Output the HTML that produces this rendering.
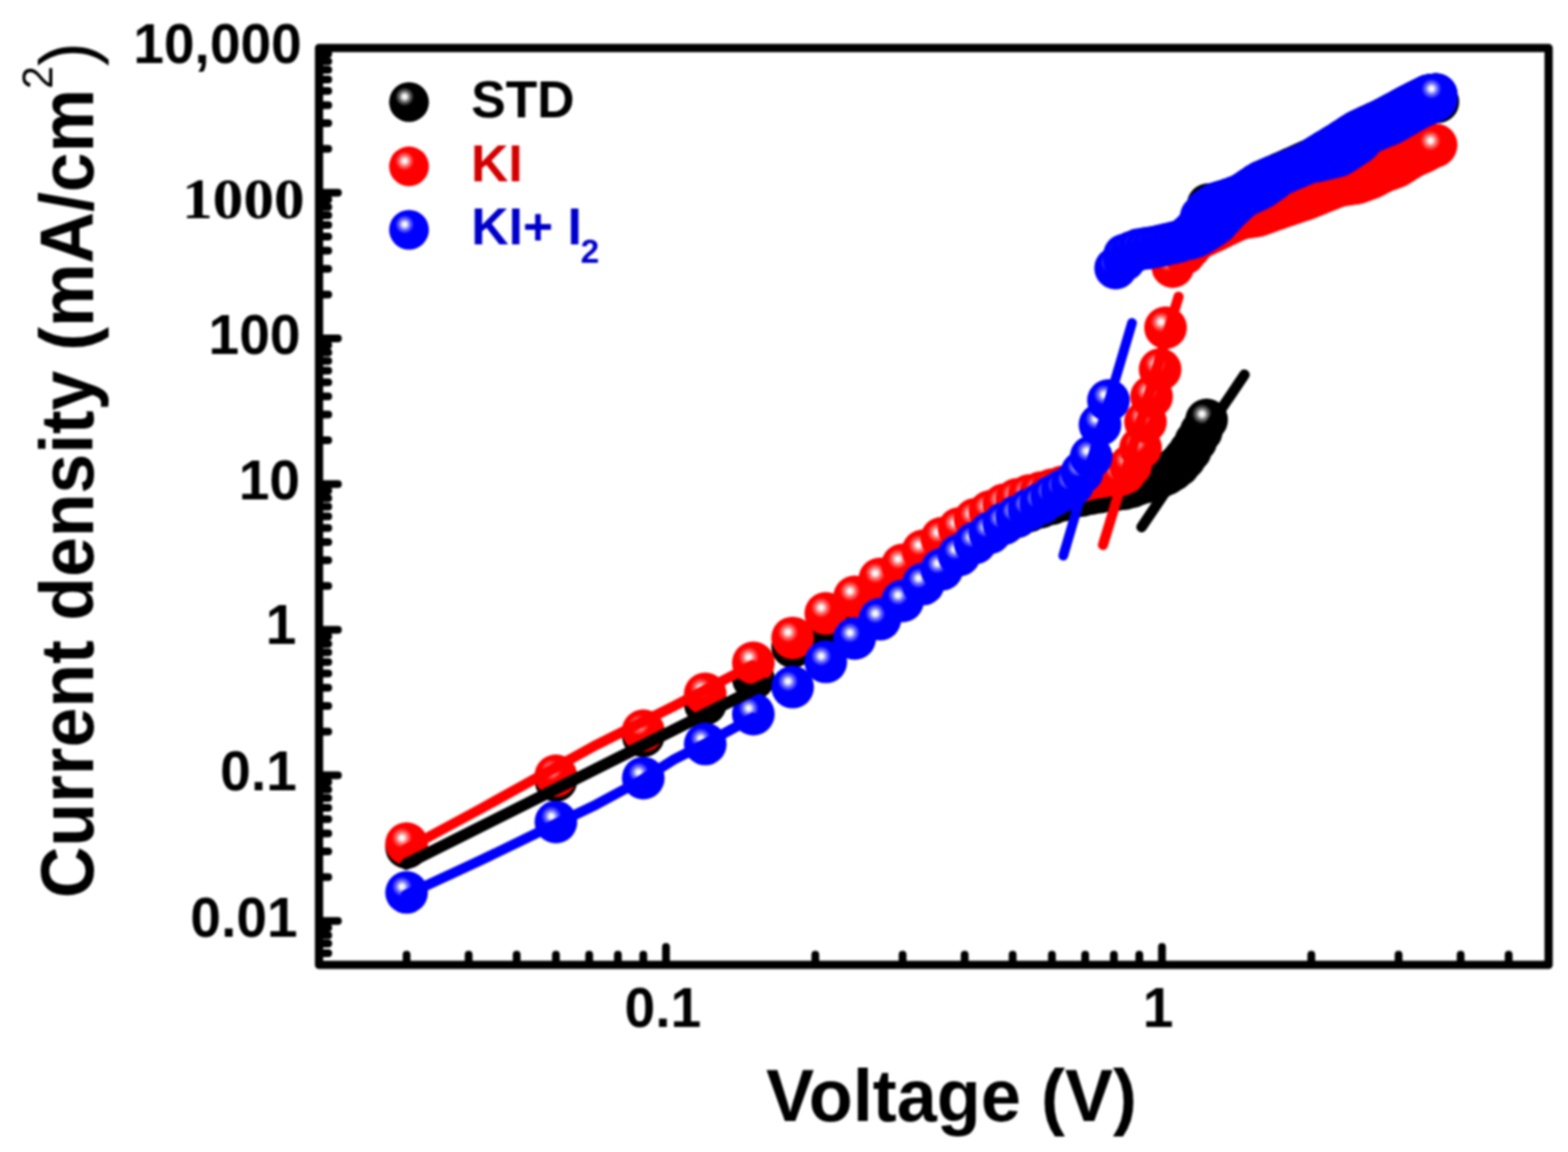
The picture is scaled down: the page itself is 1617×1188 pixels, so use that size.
<!DOCTYPE html><html><head><meta charset="utf-8"><title>J-V plot</title><style>html,body{margin:0;padding:0;background:#fff;width:1617px;height:1188px;overflow:hidden}svg{display:block;filter:blur(0.9px)}</style></head><body>
<svg width="1617" height="1188" viewBox="0 0 1617 1188">
<defs>
<radialGradient id="hl" cx="0.5" cy="0.5" r="0.5"><stop offset="0" stop-color="#fff" stop-opacity="1"/><stop offset="0.22" stop-color="#fff" stop-opacity="0.95"/><stop offset="0.55" stop-color="#fff" stop-opacity="0.45"/><stop offset="1" stop-color="#fff" stop-opacity="0"/></radialGradient>
</defs>
<rect x="0" y="0" width="1617" height="1188" fill="#fff"/>
<g>
<circle cx="419.3" cy="874.0" r="22.00" fill="#000"/><circle cx="414.5" cy="868.0" r="10.50" fill="url(#hl)"/>
<circle cx="573.3" cy="805.0" r="22.00" fill="#000"/><circle cx="568.5" cy="799.0" r="10.50" fill="url(#hl)"/>
<circle cx="663.4" cy="759.0" r="22.00" fill="#000"/><circle cx="658.6" cy="753.0" r="10.50" fill="url(#hl)"/>
<circle cx="727.3" cy="726.0" r="22.00" fill="#000"/><circle cx="722.5" cy="720.0" r="10.50" fill="url(#hl)"/>
<circle cx="776.9" cy="700.0" r="22.00" fill="#000"/><circle cx="772.1" cy="694.0" r="10.50" fill="url(#hl)"/>
<circle cx="817.4" cy="667.0" r="22.00" fill="#000"/><circle cx="812.6" cy="661.0" r="10.50" fill="url(#hl)"/>
<circle cx="851.6" cy="650.0" r="22.00" fill="#000"/><circle cx="846.8" cy="644.0" r="10.50" fill="url(#hl)"/>
<circle cx="881.3" cy="632.0" r="22.00" fill="#000"/><circle cx="876.5" cy="626.0" r="10.50" fill="url(#hl)"/>
<circle cx="907.4" cy="616.0" r="22.00" fill="#000"/><circle cx="902.6" cy="610.0" r="10.50" fill="url(#hl)"/>
<circle cx="930.8" cy="602.0" r="22.00" fill="#000"/><circle cx="926.0" cy="596.0" r="10.50" fill="url(#hl)"/>
<circle cx="952.0" cy="589.0" r="22.00" fill="#000"/><circle cx="947.2" cy="583.0" r="10.50" fill="url(#hl)"/>
<circle cx="971.3" cy="578.0" r="22.00" fill="#000"/><circle cx="966.5" cy="572.0" r="10.50" fill="url(#hl)"/>
<circle cx="989.1" cy="567.0" r="22.00" fill="#000"/><circle cx="984.3" cy="561.0" r="10.50" fill="url(#hl)"/>
<circle cx="1005.6" cy="557.0" r="22.00" fill="#000"/><circle cx="1000.8" cy="551.0" r="10.50" fill="url(#hl)"/>
<circle cx="1020.9" cy="548.0" r="22.00" fill="#000"/><circle cx="1016.1" cy="542.0" r="10.50" fill="url(#hl)"/>
<circle cx="1035.3" cy="540.0" r="22.00" fill="#000"/><circle cx="1030.5" cy="534.0" r="10.50" fill="url(#hl)"/>
<circle cx="1048.7" cy="533.0" r="22.00" fill="#000"/><circle cx="1043.9" cy="527.0" r="10.50" fill="url(#hl)"/>
<circle cx="1061.4" cy="527.0" r="22.00" fill="#000"/><circle cx="1056.6" cy="521.0" r="10.50" fill="url(#hl)"/>
<circle cx="1073.4" cy="523.0" r="22.00" fill="#000"/><circle cx="1068.6" cy="517.0" r="10.50" fill="url(#hl)"/>
<circle cx="1084.8" cy="519.5" r="22.00" fill="#000"/><circle cx="1080.0" cy="513.5" r="10.50" fill="url(#hl)"/>
<circle cx="1095.7" cy="516.0" r="22.00" fill="#000"/><circle cx="1090.9" cy="510.0" r="10.50" fill="url(#hl)"/>
<circle cx="1106.0" cy="513.0" r="22.00" fill="#000"/><circle cx="1101.2" cy="507.0" r="10.50" fill="url(#hl)"/>
<circle cx="1115.9" cy="511.0" r="22.00" fill="#000"/><circle cx="1111.1" cy="505.0" r="10.50" fill="url(#hl)"/>
<circle cx="1125.3" cy="509.0" r="22.00" fill="#000"/><circle cx="1120.5" cy="503.0" r="10.50" fill="url(#hl)"/>
<circle cx="1134.4" cy="507.5" r="22.00" fill="#000"/><circle cx="1129.6" cy="501.5" r="10.50" fill="url(#hl)"/>
<circle cx="1143.1" cy="506.0" r="22.00" fill="#000"/><circle cx="1138.3" cy="500.0" r="10.50" fill="url(#hl)"/>
<circle cx="1151.5" cy="505.0" r="22.00" fill="#000"/><circle cx="1146.7" cy="499.0" r="10.50" fill="url(#hl)"/>
<circle cx="1159.6" cy="504.0" r="22.00" fill="#000"/><circle cx="1154.8" cy="498.0" r="10.50" fill="url(#hl)"/>
<circle cx="1167.4" cy="502.0" r="22.00" fill="#000"/><circle cx="1162.6" cy="496.0" r="10.50" fill="url(#hl)"/>
<circle cx="1174.9" cy="499.0" r="22.00" fill="#000"/><circle cx="1170.1" cy="493.0" r="10.50" fill="url(#hl)"/>
<circle cx="1182.2" cy="497.0" r="22.00" fill="#000"/><circle cx="1177.4" cy="491.0" r="10.50" fill="url(#hl)"/>
<circle cx="1189.2" cy="495.0" r="22.00" fill="#000"/><circle cx="1184.4" cy="489.0" r="10.50" fill="url(#hl)"/>
<circle cx="1196.1" cy="492.0" r="22.00" fill="#000"/><circle cx="1191.3" cy="486.0" r="10.50" fill="url(#hl)"/>
<circle cx="1202.7" cy="489.0" r="22.00" fill="#000"/><circle cx="1197.9" cy="483.0" r="10.50" fill="url(#hl)"/>
<circle cx="1209.1" cy="485.0" r="22.00" fill="#000"/><circle cx="1204.3" cy="479.0" r="10.50" fill="url(#hl)"/>
<circle cx="1215.4" cy="480.0" r="22.00" fill="#000"/><circle cx="1210.6" cy="474.0" r="10.50" fill="url(#hl)"/>
<circle cx="1221.5" cy="473.0" r="22.00" fill="#000"/><circle cx="1216.7" cy="467.0" r="10.50" fill="url(#hl)"/>
<circle cx="1227.4" cy="465.0" r="22.00" fill="#000"/><circle cx="1222.6" cy="459.0" r="10.50" fill="url(#hl)"/>
<circle cx="1233.2" cy="455.0" r="22.00" fill="#000"/><circle cx="1228.4" cy="449.0" r="10.50" fill="url(#hl)"/>
<circle cx="1238.8" cy="445.0" r="22.00" fill="#000"/><circle cx="1234.0" cy="439.0" r="10.50" fill="url(#hl)"/>
<circle cx="1244.3" cy="433.0" r="22.00" fill="#000"/><circle cx="1239.5" cy="427.0" r="10.50" fill="url(#hl)"/>
<circle cx="1246.0" cy="211.0" r="22.00" fill="#000"/><circle cx="1241.2" cy="205.0" r="10.50" fill="url(#hl)"/>
<circle cx="1254.9" cy="209.6" r="22.00" fill="#000"/><circle cx="1250.1" cy="203.6" r="10.50" fill="url(#hl)"/>
<circle cx="1260.0" cy="208.1" r="22.00" fill="#000"/><circle cx="1255.2" cy="202.1" r="10.50" fill="url(#hl)"/>
<circle cx="1265.0" cy="206.6" r="22.00" fill="#000"/><circle cx="1260.2" cy="200.6" r="10.50" fill="url(#hl)"/>
<circle cx="1269.8" cy="204.9" r="22.00" fill="#000"/><circle cx="1265.0" cy="198.9" r="10.50" fill="url(#hl)"/>
<circle cx="1274.6" cy="203.2" r="22.00" fill="#000"/><circle cx="1269.8" cy="197.2" r="10.50" fill="url(#hl)"/>
<circle cx="1279.3" cy="201.5" r="22.00" fill="#000"/><circle cx="1274.5" cy="195.5" r="10.50" fill="url(#hl)"/>
<circle cx="1283.9" cy="198.6" r="22.00" fill="#000"/><circle cx="1279.1" cy="192.6" r="10.50" fill="url(#hl)"/>
<circle cx="1288.4" cy="195.7" r="22.00" fill="#000"/><circle cx="1283.6" cy="189.7" r="10.50" fill="url(#hl)"/>
<circle cx="1292.8" cy="192.8" r="22.00" fill="#000"/><circle cx="1288.0" cy="186.8" r="10.50" fill="url(#hl)"/>
<circle cx="1297.1" cy="189.9" r="22.00" fill="#000"/><circle cx="1292.3" cy="183.9" r="10.50" fill="url(#hl)"/>
<circle cx="1301.3" cy="187.4" r="22.00" fill="#000"/><circle cx="1296.5" cy="181.4" r="10.50" fill="url(#hl)"/>
<circle cx="1305.5" cy="185.6" r="22.00" fill="#000"/><circle cx="1300.7" cy="179.6" r="10.50" fill="url(#hl)"/>
<circle cx="1309.5" cy="183.8" r="22.00" fill="#000"/><circle cx="1304.7" cy="177.8" r="10.50" fill="url(#hl)"/>
<circle cx="1313.5" cy="182.1" r="22.00" fill="#000"/><circle cx="1308.7" cy="176.1" r="10.50" fill="url(#hl)"/>
<circle cx="1317.5" cy="180.4" r="22.00" fill="#000"/><circle cx="1312.7" cy="174.4" r="10.50" fill="url(#hl)"/>
<circle cx="1321.3" cy="178.7" r="22.00" fill="#000"/><circle cx="1316.5" cy="172.7" r="10.50" fill="url(#hl)"/>
<circle cx="1325.1" cy="177.0" r="22.00" fill="#000"/><circle cx="1320.3" cy="171.0" r="10.50" fill="url(#hl)"/>
<circle cx="1328.9" cy="175.4" r="22.00" fill="#000"/><circle cx="1324.1" cy="169.4" r="10.50" fill="url(#hl)"/>
<circle cx="1332.5" cy="173.7" r="22.00" fill="#000"/><circle cx="1327.7" cy="167.7" r="10.50" fill="url(#hl)"/>
<circle cx="1336.2" cy="172.1" r="22.00" fill="#000"/><circle cx="1331.4" cy="166.1" r="10.50" fill="url(#hl)"/>
<circle cx="1339.7" cy="170.5" r="22.00" fill="#000"/><circle cx="1334.9" cy="164.5" r="10.50" fill="url(#hl)"/>
<circle cx="1343.2" cy="168.9" r="22.00" fill="#000"/><circle cx="1338.4" cy="162.9" r="10.50" fill="url(#hl)"/>
<circle cx="1346.7" cy="167.4" r="22.00" fill="#000"/><circle cx="1341.9" cy="161.4" r="10.50" fill="url(#hl)"/>
<circle cx="1350.0" cy="165.9" r="22.00" fill="#000"/><circle cx="1345.2" cy="159.9" r="10.50" fill="url(#hl)"/>
<circle cx="1353.4" cy="164.4" r="22.00" fill="#000"/><circle cx="1348.6" cy="158.4" r="10.50" fill="url(#hl)"/>
<circle cx="1356.7" cy="162.5" r="22.00" fill="#000"/><circle cx="1351.9" cy="156.5" r="10.50" fill="url(#hl)"/>
<circle cx="1359.9" cy="160.5" r="22.00" fill="#000"/><circle cx="1355.1" cy="154.5" r="10.50" fill="url(#hl)"/>
<circle cx="1363.1" cy="158.6" r="22.00" fill="#000"/><circle cx="1358.3" cy="152.6" r="10.50" fill="url(#hl)"/>
<circle cx="1366.3" cy="156.7" r="22.00" fill="#000"/><circle cx="1361.5" cy="150.7" r="10.50" fill="url(#hl)"/>
<circle cx="1369.4" cy="154.8" r="22.00" fill="#000"/><circle cx="1364.6" cy="148.8" r="10.50" fill="url(#hl)"/>
<circle cx="1372.4" cy="153.0" r="22.00" fill="#000"/><circle cx="1367.6" cy="147.0" r="10.50" fill="url(#hl)"/>
<circle cx="1375.5" cy="151.1" r="22.00" fill="#000"/><circle cx="1370.7" cy="145.1" r="10.50" fill="url(#hl)"/>
<circle cx="1378.4" cy="149.3" r="22.00" fill="#000"/><circle cx="1373.6" cy="143.3" r="10.50" fill="url(#hl)"/>
<circle cx="1381.4" cy="147.5" r="22.00" fill="#000"/><circle cx="1376.6" cy="141.5" r="10.50" fill="url(#hl)"/>
<circle cx="1384.3" cy="145.6" r="22.00" fill="#000"/><circle cx="1379.5" cy="139.6" r="10.50" fill="url(#hl)"/>
<circle cx="1387.2" cy="143.8" r="22.00" fill="#000"/><circle cx="1382.4" cy="137.8" r="10.50" fill="url(#hl)"/>
<circle cx="1390.0" cy="142.0" r="22.00" fill="#000"/><circle cx="1385.2" cy="136.0" r="10.50" fill="url(#hl)"/>
<circle cx="1392.8" cy="140.2" r="22.00" fill="#000"/><circle cx="1388.0" cy="134.2" r="10.50" fill="url(#hl)"/>
<circle cx="1395.5" cy="138.4" r="22.00" fill="#000"/><circle cx="1390.7" cy="132.4" r="10.50" fill="url(#hl)"/>
<circle cx="1398.3" cy="136.6" r="22.00" fill="#000"/><circle cx="1393.5" cy="130.6" r="10.50" fill="url(#hl)"/>
<circle cx="1401.0" cy="135.1" r="22.00" fill="#000"/><circle cx="1396.2" cy="129.1" r="10.50" fill="url(#hl)"/>
<circle cx="1403.6" cy="133.8" r="22.00" fill="#000"/><circle cx="1398.8" cy="127.8" r="10.50" fill="url(#hl)"/>
<circle cx="1406.2" cy="132.6" r="22.00" fill="#000"/><circle cx="1401.4" cy="126.6" r="10.50" fill="url(#hl)"/>
<circle cx="1408.8" cy="131.4" r="22.00" fill="#000"/><circle cx="1404.0" cy="125.4" r="10.50" fill="url(#hl)"/>
<circle cx="1411.4" cy="130.2" r="22.00" fill="#000"/><circle cx="1406.6" cy="124.2" r="10.50" fill="url(#hl)"/>
<circle cx="1414.0" cy="129.0" r="22.00" fill="#000"/><circle cx="1409.2" cy="123.0" r="10.50" fill="url(#hl)"/>
<circle cx="1416.5" cy="127.9" r="22.00" fill="#000"/><circle cx="1411.7" cy="121.9" r="10.50" fill="url(#hl)"/>
<circle cx="1418.9" cy="126.7" r="22.00" fill="#000"/><circle cx="1414.1" cy="120.7" r="10.50" fill="url(#hl)"/>
<circle cx="1421.4" cy="125.6" r="22.00" fill="#000"/><circle cx="1416.6" cy="119.6" r="10.50" fill="url(#hl)"/>
<circle cx="1423.8" cy="124.5" r="22.00" fill="#000"/><circle cx="1419.0" cy="118.5" r="10.50" fill="url(#hl)"/>
<circle cx="1426.2" cy="123.4" r="22.00" fill="#000"/><circle cx="1421.4" cy="117.4" r="10.50" fill="url(#hl)"/>
<circle cx="1428.6" cy="122.1" r="22.00" fill="#000"/><circle cx="1423.8" cy="116.1" r="10.50" fill="url(#hl)"/>
<circle cx="1431.0" cy="120.9" r="22.00" fill="#000"/><circle cx="1426.2" cy="114.9" r="10.50" fill="url(#hl)"/>
<circle cx="1433.3" cy="119.6" r="22.00" fill="#000"/><circle cx="1428.5" cy="113.6" r="10.50" fill="url(#hl)"/>
<circle cx="1435.6" cy="118.4" r="22.00" fill="#000"/><circle cx="1430.8" cy="112.4" r="10.50" fill="url(#hl)"/>
<circle cx="1437.9" cy="117.2" r="22.00" fill="#000"/><circle cx="1433.1" cy="111.2" r="10.50" fill="url(#hl)"/>
<circle cx="1440.1" cy="116.0" r="22.00" fill="#000"/><circle cx="1435.3" cy="110.0" r="10.50" fill="url(#hl)"/>
<circle cx="1442.3" cy="114.8" r="22.00" fill="#000"/><circle cx="1437.5" cy="108.8" r="10.50" fill="url(#hl)"/>
<circle cx="1444.6" cy="113.6" r="22.00" fill="#000"/><circle cx="1439.8" cy="107.6" r="10.50" fill="url(#hl)"/>
<circle cx="1446.7" cy="112.4" r="22.00" fill="#000"/><circle cx="1441.9" cy="106.4" r="10.50" fill="url(#hl)"/>
<circle cx="1448.9" cy="111.2" r="22.00" fill="#000"/><circle cx="1444.1" cy="105.2" r="10.50" fill="url(#hl)"/>
<circle cx="1451.1" cy="110.1" r="22.00" fill="#000"/><circle cx="1446.3" cy="104.1" r="10.50" fill="url(#hl)"/>
<circle cx="1453.2" cy="108.9" r="22.00" fill="#000"/><circle cx="1448.4" cy="102.9" r="10.50" fill="url(#hl)"/>
<circle cx="1455.3" cy="107.8" r="22.00" fill="#000"/><circle cx="1450.5" cy="101.8" r="10.50" fill="url(#hl)"/>
<circle cx="1457.4" cy="106.8" r="22.00" fill="#000"/><circle cx="1452.6" cy="100.8" r="10.50" fill="url(#hl)"/>
<circle cx="1459.4" cy="105.7" r="22.00" fill="#000"/><circle cx="1454.6" cy="99.7" r="10.50" fill="url(#hl)"/>
<circle cx="1461.5" cy="104.7" r="22.00" fill="#000"/><circle cx="1456.7" cy="98.7" r="10.50" fill="url(#hl)"/>
<circle cx="1463.5" cy="103.6" r="22.00" fill="#000"/><circle cx="1458.7" cy="97.6" r="10.50" fill="url(#hl)"/>
<circle cx="1465.5" cy="102.6" r="22.00" fill="#000"/><circle cx="1460.7" cy="96.6" r="10.50" fill="url(#hl)"/>
<circle cx="1467.5" cy="101.6" r="22.00" fill="#000"/><circle cx="1462.7" cy="95.6" r="10.50" fill="url(#hl)"/>
<circle cx="1469.5" cy="100.6" r="22.00" fill="#000"/><circle cx="1464.7" cy="94.6" r="10.50" fill="url(#hl)"/>
<circle cx="1471.5" cy="99.6" r="22.00" fill="#000"/><circle cx="1466.7" cy="93.6" r="10.50" fill="url(#hl)"/>
<circle cx="1473.4" cy="98.6" r="22.00" fill="#000"/><circle cx="1468.6" cy="92.6" r="10.50" fill="url(#hl)"/>
<circle cx="1475.3" cy="98.2" r="22.00" fill="#000"/><circle cx="1470.5" cy="92.2" r="10.50" fill="url(#hl)"/>
<circle cx="1477.2" cy="97.9" r="22.00" fill="#000"/><circle cx="1472.4" cy="91.9" r="10.50" fill="url(#hl)"/>
<circle cx="1479.1" cy="97.7" r="22.00" fill="#000"/><circle cx="1474.3" cy="91.7" r="10.50" fill="url(#hl)"/>
<circle cx="1481.0" cy="97.5" r="22.00" fill="#000"/><circle cx="1476.2" cy="91.5" r="10.50" fill="url(#hl)"/>
<circle cx="1482.8" cy="105.0" r="22.00" fill="#000"/><circle cx="1478.0" cy="99.0" r="10.50" fill="url(#hl)"/>
</g>
<g>
<circle cx="419.3" cy="870.0" r="22.00" fill="#ff0000"/><circle cx="414.5" cy="864.0" r="10.50" fill="url(#hl)"/>
<circle cx="573.3" cy="800.0" r="22.00" fill="#ff0000"/><circle cx="568.5" cy="794.0" r="10.50" fill="url(#hl)"/>
<circle cx="663.4" cy="753.5" r="22.00" fill="#ff0000"/><circle cx="658.6" cy="747.5" r="10.50" fill="url(#hl)"/>
<circle cx="727.3" cy="715.5" r="22.00" fill="#ff0000"/><circle cx="722.5" cy="709.5" r="10.50" fill="url(#hl)"/>
<circle cx="776.9" cy="683.6" r="22.00" fill="#ff0000"/><circle cx="772.1" cy="677.6" r="10.50" fill="url(#hl)"/>
<circle cx="817.4" cy="657.9" r="22.00" fill="#ff0000"/><circle cx="812.6" cy="651.9" r="10.50" fill="url(#hl)"/>
<circle cx="851.6" cy="632.6" r="22.00" fill="#ff0000"/><circle cx="846.8" cy="626.6" r="10.50" fill="url(#hl)"/>
<circle cx="881.3" cy="615.5" r="22.00" fill="#ff0000"/><circle cx="876.5" cy="609.5" r="10.50" fill="url(#hl)"/>
<circle cx="907.4" cy="597.0" r="22.00" fill="#ff0000"/><circle cx="902.6" cy="591.0" r="10.50" fill="url(#hl)"/>
<circle cx="930.8" cy="582.5" r="22.00" fill="#ff0000"/><circle cx="926.0" cy="576.5" r="10.50" fill="url(#hl)"/>
<circle cx="952.0" cy="568.0" r="22.00" fill="#ff0000"/><circle cx="947.2" cy="562.0" r="10.50" fill="url(#hl)"/>
<circle cx="971.3" cy="555.0" r="22.00" fill="#ff0000"/><circle cx="966.5" cy="549.0" r="10.50" fill="url(#hl)"/>
<circle cx="989.1" cy="545.0" r="22.00" fill="#ff0000"/><circle cx="984.3" cy="539.0" r="10.50" fill="url(#hl)"/>
<circle cx="1005.6" cy="535.5" r="22.00" fill="#ff0000"/><circle cx="1000.8" cy="529.5" r="10.50" fill="url(#hl)"/>
<circle cx="1020.9" cy="527.5" r="22.00" fill="#ff0000"/><circle cx="1016.1" cy="521.5" r="10.50" fill="url(#hl)"/>
<circle cx="1035.3" cy="520.5" r="22.00" fill="#ff0000"/><circle cx="1030.5" cy="514.5" r="10.50" fill="url(#hl)"/>
<circle cx="1048.7" cy="515.0" r="22.00" fill="#ff0000"/><circle cx="1043.9" cy="509.0" r="10.50" fill="url(#hl)"/>
<circle cx="1061.4" cy="511.0" r="22.00" fill="#ff0000"/><circle cx="1056.6" cy="505.0" r="10.50" fill="url(#hl)"/>
<circle cx="1073.4" cy="508.0" r="22.00" fill="#ff0000"/><circle cx="1068.6" cy="502.0" r="10.50" fill="url(#hl)"/>
<circle cx="1084.8" cy="505.0" r="22.00" fill="#ff0000"/><circle cx="1080.0" cy="499.0" r="10.50" fill="url(#hl)"/>
<circle cx="1095.7" cy="502.0" r="22.00" fill="#ff0000"/><circle cx="1090.9" cy="496.0" r="10.50" fill="url(#hl)"/>
<circle cx="1106.0" cy="499.0" r="22.00" fill="#ff0000"/><circle cx="1101.2" cy="493.0" r="10.50" fill="url(#hl)"/>
<circle cx="1115.9" cy="496.0" r="22.00" fill="#ff0000"/><circle cx="1111.1" cy="490.0" r="10.50" fill="url(#hl)"/>
<circle cx="1125.3" cy="493.5" r="22.00" fill="#ff0000"/><circle cx="1120.5" cy="487.5" r="10.50" fill="url(#hl)"/>
<circle cx="1134.4" cy="492.0" r="22.00" fill="#ff0000"/><circle cx="1129.6" cy="486.0" r="10.50" fill="url(#hl)"/>
<circle cx="1143.1" cy="490.5" r="22.00" fill="#ff0000"/><circle cx="1138.3" cy="484.5" r="10.50" fill="url(#hl)"/>
<circle cx="1151.5" cy="489.0" r="22.00" fill="#ff0000"/><circle cx="1146.7" cy="483.0" r="10.50" fill="url(#hl)"/>
<circle cx="1159.6" cy="488.0" r="22.00" fill="#ff0000"/><circle cx="1154.8" cy="482.0" r="10.50" fill="url(#hl)"/>
<circle cx="1155.0" cy="490.0" r="22.00" fill="#ff0000"/><circle cx="1150.2" cy="484.0" r="10.50" fill="url(#hl)"/>
<circle cx="1166.0" cy="480.0" r="22.00" fill="#ff0000"/><circle cx="1161.2" cy="474.0" r="10.50" fill="url(#hl)"/>
<circle cx="1176.2" cy="462.0" r="22.00" fill="#ff0000"/><circle cx="1171.4" cy="456.0" r="10.50" fill="url(#hl)"/>
<circle cx="1181.3" cy="435.0" r="22.00" fill="#ff0000"/><circle cx="1176.5" cy="429.0" r="10.50" fill="url(#hl)"/>
<circle cx="1187.6" cy="409.0" r="22.00" fill="#ff0000"/><circle cx="1182.8" cy="403.0" r="10.50" fill="url(#hl)"/>
<circle cx="1196.4" cy="381.0" r="22.00" fill="#ff0000"/><circle cx="1191.6" cy="375.0" r="10.50" fill="url(#hl)"/>
<circle cx="1202.0" cy="338.0" r="22.00" fill="#ff0000"/><circle cx="1197.2" cy="332.0" r="10.50" fill="url(#hl)"/>
<circle cx="1209.4" cy="275.0" r="22.00" fill="#ff0000"/><circle cx="1204.6" cy="269.0" r="10.50" fill="url(#hl)"/>
<circle cx="1221.5" cy="261.4" r="22.00" fill="#ff0000"/><circle cx="1216.7" cy="255.4" r="10.50" fill="url(#hl)"/>
<circle cx="1227.4" cy="254.7" r="22.00" fill="#ff0000"/><circle cx="1222.6" cy="248.7" r="10.50" fill="url(#hl)"/>
<circle cx="1233.2" cy="248.2" r="22.00" fill="#ff0000"/><circle cx="1228.4" cy="242.2" r="10.50" fill="url(#hl)"/>
<circle cx="1238.8" cy="244.5" r="22.00" fill="#ff0000"/><circle cx="1234.0" cy="238.5" r="10.50" fill="url(#hl)"/>
<circle cx="1244.3" cy="241.9" r="22.00" fill="#ff0000"/><circle cx="1239.5" cy="235.9" r="10.50" fill="url(#hl)"/>
<circle cx="1249.6" cy="239.4" r="22.00" fill="#ff0000"/><circle cx="1244.8" cy="233.4" r="10.50" fill="url(#hl)"/>
<circle cx="1254.9" cy="236.9" r="22.00" fill="#ff0000"/><circle cx="1250.1" cy="230.9" r="10.50" fill="url(#hl)"/>
<circle cx="1260.0" cy="234.3" r="22.00" fill="#ff0000"/><circle cx="1255.2" cy="228.3" r="10.50" fill="url(#hl)"/>
<circle cx="1265.0" cy="231.9" r="22.00" fill="#ff0000"/><circle cx="1260.2" cy="225.9" r="10.50" fill="url(#hl)"/>
<circle cx="1269.8" cy="229.6" r="22.00" fill="#ff0000"/><circle cx="1265.0" cy="223.6" r="10.50" fill="url(#hl)"/>
<circle cx="1274.6" cy="227.4" r="22.00" fill="#ff0000"/><circle cx="1269.8" cy="221.4" r="10.50" fill="url(#hl)"/>
<circle cx="1279.3" cy="225.3" r="22.00" fill="#ff0000"/><circle cx="1274.5" cy="219.3" r="10.50" fill="url(#hl)"/>
<circle cx="1283.9" cy="224.4" r="22.00" fill="#ff0000"/><circle cx="1279.1" cy="218.4" r="10.50" fill="url(#hl)"/>
<circle cx="1288.4" cy="223.8" r="22.00" fill="#ff0000"/><circle cx="1283.6" cy="217.8" r="10.50" fill="url(#hl)"/>
<circle cx="1292.8" cy="223.1" r="22.00" fill="#ff0000"/><circle cx="1288.0" cy="217.1" r="10.50" fill="url(#hl)"/>
<circle cx="1297.1" cy="222.5" r="22.00" fill="#ff0000"/><circle cx="1292.3" cy="216.5" r="10.50" fill="url(#hl)"/>
<circle cx="1301.3" cy="220.9" r="22.00" fill="#ff0000"/><circle cx="1296.5" cy="214.9" r="10.50" fill="url(#hl)"/>
<circle cx="1305.5" cy="219.5" r="22.00" fill="#ff0000"/><circle cx="1300.7" cy="213.5" r="10.50" fill="url(#hl)"/>
<circle cx="1309.5" cy="218.0" r="22.00" fill="#ff0000"/><circle cx="1304.7" cy="212.0" r="10.50" fill="url(#hl)"/>
<circle cx="1313.5" cy="216.5" r="22.00" fill="#ff0000"/><circle cx="1308.7" cy="210.5" r="10.50" fill="url(#hl)"/>
<circle cx="1317.5" cy="215.1" r="22.00" fill="#ff0000"/><circle cx="1312.7" cy="209.1" r="10.50" fill="url(#hl)"/>
<circle cx="1321.3" cy="213.7" r="22.00" fill="#ff0000"/><circle cx="1316.5" cy="207.7" r="10.50" fill="url(#hl)"/>
<circle cx="1325.1" cy="212.4" r="22.00" fill="#ff0000"/><circle cx="1320.3" cy="206.4" r="10.50" fill="url(#hl)"/>
<circle cx="1328.9" cy="211.2" r="22.00" fill="#ff0000"/><circle cx="1324.1" cy="205.2" r="10.50" fill="url(#hl)"/>
<circle cx="1332.5" cy="209.9" r="22.00" fill="#ff0000"/><circle cx="1327.7" cy="203.9" r="10.50" fill="url(#hl)"/>
<circle cx="1336.2" cy="208.7" r="22.00" fill="#ff0000"/><circle cx="1331.4" cy="202.7" r="10.50" fill="url(#hl)"/>
<circle cx="1339.7" cy="207.5" r="22.00" fill="#ff0000"/><circle cx="1334.9" cy="201.5" r="10.50" fill="url(#hl)"/>
<circle cx="1343.2" cy="206.3" r="22.00" fill="#ff0000"/><circle cx="1338.4" cy="200.3" r="10.50" fill="url(#hl)"/>
<circle cx="1346.7" cy="205.1" r="22.00" fill="#ff0000"/><circle cx="1341.9" cy="199.1" r="10.50" fill="url(#hl)"/>
<circle cx="1350.0" cy="203.8" r="22.00" fill="#ff0000"/><circle cx="1345.2" cy="197.8" r="10.50" fill="url(#hl)"/>
<circle cx="1353.4" cy="202.4" r="22.00" fill="#ff0000"/><circle cx="1348.6" cy="196.4" r="10.50" fill="url(#hl)"/>
<circle cx="1356.7" cy="201.1" r="22.00" fill="#ff0000"/><circle cx="1351.9" cy="195.1" r="10.50" fill="url(#hl)"/>
<circle cx="1359.9" cy="199.8" r="22.00" fill="#ff0000"/><circle cx="1355.1" cy="193.8" r="10.50" fill="url(#hl)"/>
<circle cx="1363.1" cy="198.5" r="22.00" fill="#ff0000"/><circle cx="1358.3" cy="192.5" r="10.50" fill="url(#hl)"/>
<circle cx="1366.3" cy="197.2" r="22.00" fill="#ff0000"/><circle cx="1361.5" cy="191.2" r="10.50" fill="url(#hl)"/>
<circle cx="1369.4" cy="196.0" r="22.00" fill="#ff0000"/><circle cx="1364.6" cy="190.0" r="10.50" fill="url(#hl)"/>
<circle cx="1372.4" cy="194.8" r="22.00" fill="#ff0000"/><circle cx="1367.6" cy="188.8" r="10.50" fill="url(#hl)"/>
<circle cx="1375.5" cy="193.5" r="22.00" fill="#ff0000"/><circle cx="1370.7" cy="187.5" r="10.50" fill="url(#hl)"/>
<circle cx="1378.4" cy="192.3" r="22.00" fill="#ff0000"/><circle cx="1373.6" cy="186.3" r="10.50" fill="url(#hl)"/>
<circle cx="1381.4" cy="191.2" r="22.00" fill="#ff0000"/><circle cx="1376.6" cy="185.2" r="10.50" fill="url(#hl)"/>
<circle cx="1384.3" cy="190.8" r="22.00" fill="#ff0000"/><circle cx="1379.5" cy="184.8" r="10.50" fill="url(#hl)"/>
<circle cx="1387.2" cy="190.4" r="22.00" fill="#ff0000"/><circle cx="1382.4" cy="184.4" r="10.50" fill="url(#hl)"/>
<circle cx="1390.0" cy="190.0" r="22.00" fill="#ff0000"/><circle cx="1385.2" cy="184.0" r="10.50" fill="url(#hl)"/>
<circle cx="1392.8" cy="189.6" r="22.00" fill="#ff0000"/><circle cx="1388.0" cy="183.6" r="10.50" fill="url(#hl)"/>
<circle cx="1395.5" cy="189.2" r="22.00" fill="#ff0000"/><circle cx="1390.7" cy="183.2" r="10.50" fill="url(#hl)"/>
<circle cx="1398.3" cy="188.8" r="22.00" fill="#ff0000"/><circle cx="1393.5" cy="182.8" r="10.50" fill="url(#hl)"/>
<circle cx="1401.0" cy="188.1" r="22.00" fill="#ff0000"/><circle cx="1396.2" cy="182.1" r="10.50" fill="url(#hl)"/>
<circle cx="1403.6" cy="187.1" r="22.00" fill="#ff0000"/><circle cx="1398.8" cy="181.1" r="10.50" fill="url(#hl)"/>
<circle cx="1406.2" cy="186.2" r="22.00" fill="#ff0000"/><circle cx="1401.4" cy="180.2" r="10.50" fill="url(#hl)"/>
<circle cx="1408.8" cy="185.2" r="22.00" fill="#ff0000"/><circle cx="1404.0" cy="179.2" r="10.50" fill="url(#hl)"/>
<circle cx="1411.4" cy="184.2" r="22.00" fill="#ff0000"/><circle cx="1406.6" cy="178.2" r="10.50" fill="url(#hl)"/>
<circle cx="1414.0" cy="183.3" r="22.00" fill="#ff0000"/><circle cx="1409.2" cy="177.3" r="10.50" fill="url(#hl)"/>
<circle cx="1416.5" cy="182.1" r="22.00" fill="#ff0000"/><circle cx="1411.7" cy="176.1" r="10.50" fill="url(#hl)"/>
<circle cx="1418.9" cy="180.8" r="22.00" fill="#ff0000"/><circle cx="1414.1" cy="174.8" r="10.50" fill="url(#hl)"/>
<circle cx="1421.4" cy="179.5" r="22.00" fill="#ff0000"/><circle cx="1416.6" cy="173.5" r="10.50" fill="url(#hl)"/>
<circle cx="1423.8" cy="178.2" r="22.00" fill="#ff0000"/><circle cx="1419.0" cy="172.2" r="10.50" fill="url(#hl)"/>
<circle cx="1426.2" cy="176.9" r="22.00" fill="#ff0000"/><circle cx="1421.4" cy="170.9" r="10.50" fill="url(#hl)"/>
<circle cx="1428.6" cy="175.9" r="22.00" fill="#ff0000"/><circle cx="1423.8" cy="169.9" r="10.50" fill="url(#hl)"/>
<circle cx="1431.0" cy="175.1" r="22.00" fill="#ff0000"/><circle cx="1426.2" cy="169.1" r="10.50" fill="url(#hl)"/>
<circle cx="1433.3" cy="174.3" r="22.00" fill="#ff0000"/><circle cx="1428.5" cy="168.3" r="10.50" fill="url(#hl)"/>
<circle cx="1435.6" cy="173.5" r="22.00" fill="#ff0000"/><circle cx="1430.8" cy="167.5" r="10.50" fill="url(#hl)"/>
<circle cx="1437.9" cy="172.7" r="22.00" fill="#ff0000"/><circle cx="1433.1" cy="166.7" r="10.50" fill="url(#hl)"/>
<circle cx="1440.1" cy="171.9" r="22.00" fill="#ff0000"/><circle cx="1435.3" cy="165.9" r="10.50" fill="url(#hl)"/>
<circle cx="1442.3" cy="170.5" r="22.00" fill="#ff0000"/><circle cx="1437.5" cy="164.5" r="10.50" fill="url(#hl)"/>
<circle cx="1444.6" cy="169.1" r="22.00" fill="#ff0000"/><circle cx="1439.8" cy="163.1" r="10.50" fill="url(#hl)"/>
<circle cx="1446.7" cy="167.7" r="22.00" fill="#ff0000"/><circle cx="1441.9" cy="161.7" r="10.50" fill="url(#hl)"/>
<circle cx="1448.9" cy="166.3" r="22.00" fill="#ff0000"/><circle cx="1444.1" cy="160.3" r="10.50" fill="url(#hl)"/>
<circle cx="1451.1" cy="164.9" r="22.00" fill="#ff0000"/><circle cx="1446.3" cy="158.9" r="10.50" fill="url(#hl)"/>
<circle cx="1453.2" cy="163.6" r="22.00" fill="#ff0000"/><circle cx="1448.4" cy="157.6" r="10.50" fill="url(#hl)"/>
<circle cx="1455.3" cy="162.2" r="22.00" fill="#ff0000"/><circle cx="1450.5" cy="156.2" r="10.50" fill="url(#hl)"/>
<circle cx="1457.4" cy="160.9" r="22.00" fill="#ff0000"/><circle cx="1452.6" cy="154.9" r="10.50" fill="url(#hl)"/>
<circle cx="1459.4" cy="160.0" r="22.00" fill="#ff0000"/><circle cx="1454.6" cy="154.0" r="10.50" fill="url(#hl)"/>
<circle cx="1461.5" cy="159.3" r="22.00" fill="#ff0000"/><circle cx="1456.7" cy="153.3" r="10.50" fill="url(#hl)"/>
<circle cx="1463.5" cy="158.5" r="22.00" fill="#ff0000"/><circle cx="1458.7" cy="152.5" r="10.50" fill="url(#hl)"/>
<circle cx="1465.5" cy="157.7" r="22.00" fill="#ff0000"/><circle cx="1460.7" cy="151.7" r="10.50" fill="url(#hl)"/>
<circle cx="1467.5" cy="156.7" r="22.00" fill="#ff0000"/><circle cx="1462.7" cy="150.7" r="10.50" fill="url(#hl)"/>
<circle cx="1469.5" cy="155.6" r="22.00" fill="#ff0000"/><circle cx="1464.7" cy="149.6" r="10.50" fill="url(#hl)"/>
<circle cx="1471.5" cy="154.6" r="22.00" fill="#ff0000"/><circle cx="1466.7" cy="148.6" r="10.50" fill="url(#hl)"/>
<circle cx="1473.4" cy="153.5" r="22.00" fill="#ff0000"/><circle cx="1468.6" cy="147.5" r="10.50" fill="url(#hl)"/>
<circle cx="1475.3" cy="152.5" r="22.00" fill="#ff0000"/><circle cx="1470.5" cy="146.5" r="10.50" fill="url(#hl)"/>
<circle cx="1477.2" cy="151.5" r="22.00" fill="#ff0000"/><circle cx="1472.4" cy="145.5" r="10.50" fill="url(#hl)"/>
<circle cx="1479.1" cy="150.5" r="22.00" fill="#ff0000"/><circle cx="1474.3" cy="144.5" r="10.50" fill="url(#hl)"/>
<circle cx="1481.0" cy="149.5" r="22.00" fill="#ff0000"/><circle cx="1476.2" cy="143.5" r="10.50" fill="url(#hl)"/>
<circle cx="1480.0" cy="151.0" r="22.00" fill="#ff0000"/><circle cx="1475.2" cy="145.0" r="10.50" fill="url(#hl)"/>
</g>
<g>
<circle cx="419.3" cy="920.3" r="22.00" fill="#0000ff"/><circle cx="414.5" cy="914.3" r="10.50" fill="url(#hl)"/>
<circle cx="573.3" cy="847.7" r="22.00" fill="#0000ff"/><circle cx="568.5" cy="841.7" r="10.50" fill="url(#hl)"/>
<circle cx="663.4" cy="802.4" r="22.00" fill="#0000ff"/><circle cx="658.6" cy="796.4" r="10.50" fill="url(#hl)"/>
<circle cx="727.3" cy="767.3" r="22.00" fill="#0000ff"/><circle cx="722.5" cy="761.3" r="10.50" fill="url(#hl)"/>
<circle cx="776.9" cy="736.4" r="22.00" fill="#0000ff"/><circle cx="772.1" cy="730.4" r="10.50" fill="url(#hl)"/>
<circle cx="817.4" cy="708.6" r="22.00" fill="#0000ff"/><circle cx="812.6" cy="702.6" r="10.50" fill="url(#hl)"/>
<circle cx="851.6" cy="682.6" r="22.00" fill="#0000ff"/><circle cx="846.8" cy="676.6" r="10.50" fill="url(#hl)"/>
<circle cx="881.3" cy="658.5" r="22.00" fill="#0000ff"/><circle cx="876.5" cy="652.5" r="10.50" fill="url(#hl)"/>
<circle cx="907.4" cy="638.6" r="22.00" fill="#0000ff"/><circle cx="902.6" cy="632.6" r="10.50" fill="url(#hl)"/>
<circle cx="930.8" cy="619.7" r="22.00" fill="#0000ff"/><circle cx="926.0" cy="613.7" r="10.50" fill="url(#hl)"/>
<circle cx="952.0" cy="602.3" r="22.00" fill="#0000ff"/><circle cx="947.2" cy="596.3" r="10.50" fill="url(#hl)"/>
<circle cx="971.3" cy="587.1" r="22.00" fill="#0000ff"/><circle cx="966.5" cy="581.1" r="10.50" fill="url(#hl)"/>
<circle cx="989.1" cy="572.5" r="22.00" fill="#0000ff"/><circle cx="984.3" cy="566.5" r="10.50" fill="url(#hl)"/>
<circle cx="1005.6" cy="560.0" r="22.00" fill="#0000ff"/><circle cx="1000.8" cy="554.0" r="10.50" fill="url(#hl)"/>
<circle cx="1020.9" cy="549.5" r="22.00" fill="#0000ff"/><circle cx="1016.1" cy="543.5" r="10.50" fill="url(#hl)"/>
<circle cx="1035.3" cy="540.0" r="22.00" fill="#0000ff"/><circle cx="1030.5" cy="534.0" r="10.50" fill="url(#hl)"/>
<circle cx="1048.7" cy="532.5" r="22.00" fill="#0000ff"/><circle cx="1043.9" cy="526.5" r="10.50" fill="url(#hl)"/>
<circle cx="1061.4" cy="525.5" r="22.00" fill="#0000ff"/><circle cx="1056.6" cy="519.5" r="10.50" fill="url(#hl)"/>
<circle cx="1073.4" cy="519.5" r="22.00" fill="#0000ff"/><circle cx="1068.6" cy="513.5" r="10.50" fill="url(#hl)"/>
<circle cx="1084.8" cy="512.0" r="22.00" fill="#0000ff"/><circle cx="1080.0" cy="506.0" r="10.50" fill="url(#hl)"/>
<circle cx="1095.7" cy="506.0" r="22.00" fill="#0000ff"/><circle cx="1090.9" cy="500.0" r="10.50" fill="url(#hl)"/>
<circle cx="1106.0" cy="500.0" r="22.00" fill="#0000ff"/><circle cx="1101.2" cy="494.0" r="10.50" fill="url(#hl)"/>
<circle cx="1115.9" cy="487.0" r="22.00" fill="#0000ff"/><circle cx="1111.1" cy="481.0" r="10.50" fill="url(#hl)"/>
<circle cx="1125.3" cy="471.0" r="22.00" fill="#0000ff"/><circle cx="1120.5" cy="465.0" r="10.50" fill="url(#hl)"/>
<circle cx="1134.4" cy="438.0" r="22.00" fill="#0000ff"/><circle cx="1129.6" cy="432.0" r="10.50" fill="url(#hl)"/>
<circle cx="1143.1" cy="413.0" r="22.00" fill="#0000ff"/><circle cx="1138.3" cy="407.0" r="10.50" fill="url(#hl)"/>
<circle cx="1150.5" cy="276.5" r="22.00" fill="#0000ff"/><circle cx="1145.7" cy="270.5" r="10.50" fill="url(#hl)"/>
<circle cx="1159.6" cy="267.9" r="22.00" fill="#0000ff"/><circle cx="1154.8" cy="261.9" r="10.50" fill="url(#hl)"/>
<circle cx="1159.6" cy="263.1" r="22.00" fill="#0000ff"/><circle cx="1154.8" cy="257.1" r="10.50" fill="url(#hl)"/>
<circle cx="1167.4" cy="260.1" r="22.00" fill="#0000ff"/><circle cx="1162.6" cy="254.1" r="10.50" fill="url(#hl)"/>
<circle cx="1174.9" cy="257.2" r="22.00" fill="#0000ff"/><circle cx="1170.1" cy="251.2" r="10.50" fill="url(#hl)"/>
<circle cx="1182.2" cy="256.1" r="22.00" fill="#0000ff"/><circle cx="1177.4" cy="250.1" r="10.50" fill="url(#hl)"/>
<circle cx="1189.2" cy="254.9" r="22.00" fill="#0000ff"/><circle cx="1184.4" cy="248.9" r="10.50" fill="url(#hl)"/>
<circle cx="1196.1" cy="253.5" r="22.00" fill="#0000ff"/><circle cx="1191.3" cy="247.5" r="10.50" fill="url(#hl)"/>
<circle cx="1202.7" cy="252.0" r="22.00" fill="#0000ff"/><circle cx="1197.9" cy="246.0" r="10.50" fill="url(#hl)"/>
<circle cx="1209.1" cy="250.6" r="22.00" fill="#0000ff"/><circle cx="1204.3" cy="244.6" r="10.50" fill="url(#hl)"/>
<circle cx="1215.4" cy="249.1" r="22.00" fill="#0000ff"/><circle cx="1210.6" cy="243.1" r="10.50" fill="url(#hl)"/>
<circle cx="1221.5" cy="246.9" r="22.00" fill="#0000ff"/><circle cx="1216.7" cy="240.9" r="10.50" fill="url(#hl)"/>
<circle cx="1227.4" cy="246.0" r="22.00" fill="#0000ff"/><circle cx="1222.6" cy="240.0" r="10.50" fill="url(#hl)"/>
<circle cx="1227.4" cy="241.7" r="22.00" fill="#0000ff"/><circle cx="1222.6" cy="235.7" r="10.50" fill="url(#hl)"/>
<circle cx="1233.2" cy="244.0" r="22.00" fill="#0000ff"/><circle cx="1228.4" cy="238.0" r="10.50" fill="url(#hl)"/>
<circle cx="1233.2" cy="235.9" r="22.00" fill="#0000ff"/><circle cx="1228.4" cy="229.9" r="10.50" fill="url(#hl)"/>
<circle cx="1238.8" cy="240.9" r="22.00" fill="#0000ff"/><circle cx="1234.0" cy="234.9" r="10.50" fill="url(#hl)"/>
<circle cx="1238.8" cy="223.4" r="22.00" fill="#0000ff"/><circle cx="1234.0" cy="217.4" r="10.50" fill="url(#hl)"/>
<circle cx="1244.3" cy="237.4" r="22.00" fill="#0000ff"/><circle cx="1239.5" cy="231.4" r="10.50" fill="url(#hl)"/>
<circle cx="1244.3" cy="216.3" r="22.00" fill="#0000ff"/><circle cx="1239.5" cy="210.3" r="10.50" fill="url(#hl)"/>
<circle cx="1249.6" cy="234.0" r="22.00" fill="#0000ff"/><circle cx="1244.8" cy="228.0" r="10.50" fill="url(#hl)"/>
<circle cx="1249.6" cy="212.7" r="22.00" fill="#0000ff"/><circle cx="1244.8" cy="206.7" r="10.50" fill="url(#hl)"/>
<circle cx="1254.9" cy="230.1" r="22.00" fill="#0000ff"/><circle cx="1250.1" cy="224.1" r="10.50" fill="url(#hl)"/>
<circle cx="1254.9" cy="209.6" r="22.00" fill="#0000ff"/><circle cx="1250.1" cy="203.6" r="10.50" fill="url(#hl)"/>
<circle cx="1260.0" cy="224.5" r="22.00" fill="#0000ff"/><circle cx="1255.2" cy="218.5" r="10.50" fill="url(#hl)"/>
<circle cx="1260.0" cy="208.1" r="22.00" fill="#0000ff"/><circle cx="1255.2" cy="202.1" r="10.50" fill="url(#hl)"/>
<circle cx="1265.0" cy="219.0" r="22.00" fill="#0000ff"/><circle cx="1260.2" cy="213.0" r="10.50" fill="url(#hl)"/>
<circle cx="1265.0" cy="206.6" r="22.00" fill="#0000ff"/><circle cx="1260.2" cy="200.6" r="10.50" fill="url(#hl)"/>
<circle cx="1269.8" cy="214.1" r="22.00" fill="#0000ff"/><circle cx="1265.0" cy="208.1" r="10.50" fill="url(#hl)"/>
<circle cx="1269.8" cy="204.9" r="22.00" fill="#0000ff"/><circle cx="1265.0" cy="198.9" r="10.50" fill="url(#hl)"/>
<circle cx="1274.6" cy="209.6" r="22.00" fill="#0000ff"/><circle cx="1269.8" cy="203.6" r="10.50" fill="url(#hl)"/>
<circle cx="1274.6" cy="203.2" r="22.00" fill="#0000ff"/><circle cx="1269.8" cy="197.2" r="10.50" fill="url(#hl)"/>
<circle cx="1279.3" cy="205.2" r="22.00" fill="#0000ff"/><circle cx="1274.5" cy="199.2" r="10.50" fill="url(#hl)"/>
<circle cx="1279.3" cy="201.5" r="22.00" fill="#0000ff"/><circle cx="1274.5" cy="195.5" r="10.50" fill="url(#hl)"/>
<circle cx="1283.9" cy="202.3" r="22.00" fill="#0000ff"/><circle cx="1279.1" cy="196.3" r="10.50" fill="url(#hl)"/>
<circle cx="1283.9" cy="198.6" r="22.00" fill="#0000ff"/><circle cx="1279.1" cy="192.6" r="10.50" fill="url(#hl)"/>
<circle cx="1288.4" cy="199.7" r="22.00" fill="#0000ff"/><circle cx="1283.6" cy="193.7" r="10.50" fill="url(#hl)"/>
<circle cx="1288.4" cy="195.7" r="22.00" fill="#0000ff"/><circle cx="1283.6" cy="189.7" r="10.50" fill="url(#hl)"/>
<circle cx="1292.8" cy="197.8" r="22.00" fill="#0000ff"/><circle cx="1288.0" cy="191.8" r="10.50" fill="url(#hl)"/>
<circle cx="1292.8" cy="192.8" r="22.00" fill="#0000ff"/><circle cx="1288.0" cy="186.8" r="10.50" fill="url(#hl)"/>
<circle cx="1297.1" cy="195.8" r="22.00" fill="#0000ff"/><circle cx="1292.3" cy="189.8" r="10.50" fill="url(#hl)"/>
<circle cx="1297.1" cy="189.9" r="22.00" fill="#0000ff"/><circle cx="1292.3" cy="183.9" r="10.50" fill="url(#hl)"/>
<circle cx="1301.3" cy="193.6" r="22.00" fill="#0000ff"/><circle cx="1296.5" cy="187.6" r="10.50" fill="url(#hl)"/>
<circle cx="1301.3" cy="187.4" r="22.00" fill="#0000ff"/><circle cx="1296.5" cy="181.4" r="10.50" fill="url(#hl)"/>
<circle cx="1305.5" cy="190.7" r="22.00" fill="#0000ff"/><circle cx="1300.7" cy="184.7" r="10.50" fill="url(#hl)"/>
<circle cx="1305.5" cy="185.6" r="22.00" fill="#0000ff"/><circle cx="1300.7" cy="179.6" r="10.50" fill="url(#hl)"/>
<circle cx="1309.5" cy="187.9" r="22.00" fill="#0000ff"/><circle cx="1304.7" cy="181.9" r="10.50" fill="url(#hl)"/>
<circle cx="1309.5" cy="183.8" r="22.00" fill="#0000ff"/><circle cx="1304.7" cy="177.8" r="10.50" fill="url(#hl)"/>
<circle cx="1313.5" cy="185.1" r="22.00" fill="#0000ff"/><circle cx="1308.7" cy="179.1" r="10.50" fill="url(#hl)"/>
<circle cx="1313.5" cy="182.1" r="22.00" fill="#0000ff"/><circle cx="1308.7" cy="176.1" r="10.50" fill="url(#hl)"/>
<circle cx="1317.5" cy="181.4" r="22.00" fill="#0000ff"/><circle cx="1312.7" cy="175.4" r="10.50" fill="url(#hl)"/>
<circle cx="1321.3" cy="179.4" r="22.00" fill="#0000ff"/><circle cx="1316.5" cy="173.4" r="10.50" fill="url(#hl)"/>
<circle cx="1325.1" cy="177.8" r="22.00" fill="#0000ff"/><circle cx="1320.3" cy="171.8" r="10.50" fill="url(#hl)"/>
<circle cx="1328.9" cy="176.2" r="22.00" fill="#0000ff"/><circle cx="1324.1" cy="170.2" r="10.50" fill="url(#hl)"/>
<circle cx="1332.5" cy="174.6" r="22.00" fill="#0000ff"/><circle cx="1327.7" cy="168.6" r="10.50" fill="url(#hl)"/>
<circle cx="1336.2" cy="173.1" r="22.00" fill="#0000ff"/><circle cx="1331.4" cy="167.1" r="10.50" fill="url(#hl)"/>
<circle cx="1339.7" cy="171.6" r="22.00" fill="#0000ff"/><circle cx="1334.9" cy="165.6" r="10.50" fill="url(#hl)"/>
<circle cx="1343.2" cy="170.1" r="22.00" fill="#0000ff"/><circle cx="1338.4" cy="164.1" r="10.50" fill="url(#hl)"/>
<circle cx="1346.7" cy="168.6" r="22.00" fill="#0000ff"/><circle cx="1341.9" cy="162.6" r="10.50" fill="url(#hl)"/>
<circle cx="1350.0" cy="167.2" r="22.00" fill="#0000ff"/><circle cx="1345.2" cy="161.2" r="10.50" fill="url(#hl)"/>
<circle cx="1353.4" cy="165.8" r="22.00" fill="#0000ff"/><circle cx="1348.6" cy="159.8" r="10.50" fill="url(#hl)"/>
<circle cx="1356.7" cy="166.3" r="22.00" fill="#0000ff"/><circle cx="1351.9" cy="160.3" r="10.50" fill="url(#hl)"/>
<circle cx="1356.7" cy="162.5" r="22.00" fill="#0000ff"/><circle cx="1351.9" cy="156.5" r="10.50" fill="url(#hl)"/>
<circle cx="1359.9" cy="165.5" r="22.00" fill="#0000ff"/><circle cx="1355.1" cy="159.5" r="10.50" fill="url(#hl)"/>
<circle cx="1359.9" cy="160.5" r="22.00" fill="#0000ff"/><circle cx="1355.1" cy="154.5" r="10.50" fill="url(#hl)"/>
<circle cx="1363.1" cy="164.8" r="22.00" fill="#0000ff"/><circle cx="1358.3" cy="158.8" r="10.50" fill="url(#hl)"/>
<circle cx="1363.1" cy="158.6" r="22.00" fill="#0000ff"/><circle cx="1358.3" cy="152.6" r="10.50" fill="url(#hl)"/>
<circle cx="1366.3" cy="164.0" r="22.00" fill="#0000ff"/><circle cx="1361.5" cy="158.0" r="10.50" fill="url(#hl)"/>
<circle cx="1366.3" cy="156.7" r="22.00" fill="#0000ff"/><circle cx="1361.5" cy="150.7" r="10.50" fill="url(#hl)"/>
<circle cx="1369.4" cy="163.3" r="22.00" fill="#0000ff"/><circle cx="1364.6" cy="157.3" r="10.50" fill="url(#hl)"/>
<circle cx="1369.4" cy="154.8" r="22.00" fill="#0000ff"/><circle cx="1364.6" cy="148.8" r="10.50" fill="url(#hl)"/>
<circle cx="1372.4" cy="162.5" r="22.00" fill="#0000ff"/><circle cx="1367.6" cy="156.5" r="10.50" fill="url(#hl)"/>
<circle cx="1372.4" cy="153.0" r="22.00" fill="#0000ff"/><circle cx="1367.6" cy="147.0" r="10.50" fill="url(#hl)"/>
<circle cx="1375.5" cy="161.8" r="22.00" fill="#0000ff"/><circle cx="1370.7" cy="155.8" r="10.50" fill="url(#hl)"/>
<circle cx="1375.5" cy="151.1" r="22.00" fill="#0000ff"/><circle cx="1370.7" cy="145.1" r="10.50" fill="url(#hl)"/>
<circle cx="1378.4" cy="161.1" r="22.00" fill="#0000ff"/><circle cx="1373.6" cy="155.1" r="10.50" fill="url(#hl)"/>
<circle cx="1378.4" cy="149.3" r="22.00" fill="#0000ff"/><circle cx="1373.6" cy="143.3" r="10.50" fill="url(#hl)"/>
<circle cx="1381.4" cy="160.1" r="22.00" fill="#0000ff"/><circle cx="1376.6" cy="154.1" r="10.50" fill="url(#hl)"/>
<circle cx="1381.4" cy="147.5" r="22.00" fill="#0000ff"/><circle cx="1376.6" cy="141.5" r="10.50" fill="url(#hl)"/>
<circle cx="1384.3" cy="158.3" r="22.00" fill="#0000ff"/><circle cx="1379.5" cy="152.3" r="10.50" fill="url(#hl)"/>
<circle cx="1384.3" cy="145.6" r="22.00" fill="#0000ff"/><circle cx="1379.5" cy="139.6" r="10.50" fill="url(#hl)"/>
<circle cx="1387.2" cy="156.4" r="22.00" fill="#0000ff"/><circle cx="1382.4" cy="150.4" r="10.50" fill="url(#hl)"/>
<circle cx="1387.2" cy="143.8" r="22.00" fill="#0000ff"/><circle cx="1382.4" cy="137.8" r="10.50" fill="url(#hl)"/>
<circle cx="1390.0" cy="154.6" r="22.00" fill="#0000ff"/><circle cx="1385.2" cy="148.6" r="10.50" fill="url(#hl)"/>
<circle cx="1390.0" cy="142.0" r="22.00" fill="#0000ff"/><circle cx="1385.2" cy="136.0" r="10.50" fill="url(#hl)"/>
<circle cx="1392.8" cy="152.8" r="22.00" fill="#0000ff"/><circle cx="1388.0" cy="146.8" r="10.50" fill="url(#hl)"/>
<circle cx="1392.8" cy="140.2" r="22.00" fill="#0000ff"/><circle cx="1388.0" cy="134.2" r="10.50" fill="url(#hl)"/>
<circle cx="1395.5" cy="151.0" r="22.00" fill="#0000ff"/><circle cx="1390.7" cy="145.0" r="10.50" fill="url(#hl)"/>
<circle cx="1395.5" cy="138.4" r="22.00" fill="#0000ff"/><circle cx="1390.7" cy="132.4" r="10.50" fill="url(#hl)"/>
<circle cx="1398.3" cy="149.3" r="22.00" fill="#0000ff"/><circle cx="1393.5" cy="143.3" r="10.50" fill="url(#hl)"/>
<circle cx="1398.3" cy="136.6" r="22.00" fill="#0000ff"/><circle cx="1393.5" cy="130.6" r="10.50" fill="url(#hl)"/>
<circle cx="1401.0" cy="147.5" r="22.00" fill="#0000ff"/><circle cx="1396.2" cy="141.5" r="10.50" fill="url(#hl)"/>
<circle cx="1401.0" cy="135.1" r="22.00" fill="#0000ff"/><circle cx="1396.2" cy="129.1" r="10.50" fill="url(#hl)"/>
<circle cx="1403.6" cy="144.6" r="22.00" fill="#0000ff"/><circle cx="1398.8" cy="138.6" r="10.50" fill="url(#hl)"/>
<circle cx="1403.6" cy="133.8" r="22.00" fill="#0000ff"/><circle cx="1398.8" cy="127.8" r="10.50" fill="url(#hl)"/>
<circle cx="1406.2" cy="141.7" r="22.00" fill="#0000ff"/><circle cx="1401.4" cy="135.7" r="10.50" fill="url(#hl)"/>
<circle cx="1406.2" cy="132.6" r="22.00" fill="#0000ff"/><circle cx="1401.4" cy="126.6" r="10.50" fill="url(#hl)"/>
<circle cx="1408.8" cy="138.8" r="22.00" fill="#0000ff"/><circle cx="1404.0" cy="132.8" r="10.50" fill="url(#hl)"/>
<circle cx="1408.8" cy="131.4" r="22.00" fill="#0000ff"/><circle cx="1404.0" cy="125.4" r="10.50" fill="url(#hl)"/>
<circle cx="1411.4" cy="136.9" r="22.00" fill="#0000ff"/><circle cx="1406.6" cy="130.9" r="10.50" fill="url(#hl)"/>
<circle cx="1411.4" cy="130.2" r="22.00" fill="#0000ff"/><circle cx="1406.6" cy="124.2" r="10.50" fill="url(#hl)"/>
<circle cx="1414.0" cy="135.9" r="22.00" fill="#0000ff"/><circle cx="1409.2" cy="129.9" r="10.50" fill="url(#hl)"/>
<circle cx="1414.0" cy="129.0" r="22.00" fill="#0000ff"/><circle cx="1409.2" cy="123.0" r="10.50" fill="url(#hl)"/>
<circle cx="1416.5" cy="134.9" r="22.00" fill="#0000ff"/><circle cx="1411.7" cy="128.9" r="10.50" fill="url(#hl)"/>
<circle cx="1416.5" cy="127.9" r="22.00" fill="#0000ff"/><circle cx="1411.7" cy="121.9" r="10.50" fill="url(#hl)"/>
<circle cx="1418.9" cy="133.9" r="22.00" fill="#0000ff"/><circle cx="1414.1" cy="127.9" r="10.50" fill="url(#hl)"/>
<circle cx="1418.9" cy="126.7" r="22.00" fill="#0000ff"/><circle cx="1414.1" cy="120.7" r="10.50" fill="url(#hl)"/>
<circle cx="1421.4" cy="132.9" r="22.00" fill="#0000ff"/><circle cx="1416.6" cy="126.9" r="10.50" fill="url(#hl)"/>
<circle cx="1421.4" cy="125.6" r="22.00" fill="#0000ff"/><circle cx="1416.6" cy="119.6" r="10.50" fill="url(#hl)"/>
<circle cx="1423.8" cy="131.9" r="22.00" fill="#0000ff"/><circle cx="1419.0" cy="125.9" r="10.50" fill="url(#hl)"/>
<circle cx="1423.8" cy="124.5" r="22.00" fill="#0000ff"/><circle cx="1419.0" cy="118.5" r="10.50" fill="url(#hl)"/>
<circle cx="1426.2" cy="130.9" r="22.00" fill="#0000ff"/><circle cx="1421.4" cy="124.9" r="10.50" fill="url(#hl)"/>
<circle cx="1426.2" cy="123.4" r="22.00" fill="#0000ff"/><circle cx="1421.4" cy="117.4" r="10.50" fill="url(#hl)"/>
<circle cx="1428.6" cy="130.0" r="22.00" fill="#0000ff"/><circle cx="1423.8" cy="124.0" r="10.50" fill="url(#hl)"/>
<circle cx="1428.6" cy="122.1" r="22.00" fill="#0000ff"/><circle cx="1423.8" cy="116.1" r="10.50" fill="url(#hl)"/>
<circle cx="1431.0" cy="129.0" r="22.00" fill="#0000ff"/><circle cx="1426.2" cy="123.0" r="10.50" fill="url(#hl)"/>
<circle cx="1431.0" cy="120.9" r="22.00" fill="#0000ff"/><circle cx="1426.2" cy="114.9" r="10.50" fill="url(#hl)"/>
<circle cx="1433.3" cy="128.1" r="22.00" fill="#0000ff"/><circle cx="1428.5" cy="122.1" r="10.50" fill="url(#hl)"/>
<circle cx="1433.3" cy="119.6" r="22.00" fill="#0000ff"/><circle cx="1428.5" cy="113.6" r="10.50" fill="url(#hl)"/>
<circle cx="1435.6" cy="127.0" r="22.00" fill="#0000ff"/><circle cx="1430.8" cy="121.0" r="10.50" fill="url(#hl)"/>
<circle cx="1435.6" cy="118.4" r="22.00" fill="#0000ff"/><circle cx="1430.8" cy="112.4" r="10.50" fill="url(#hl)"/>
<circle cx="1437.9" cy="125.7" r="22.00" fill="#0000ff"/><circle cx="1433.1" cy="119.7" r="10.50" fill="url(#hl)"/>
<circle cx="1437.9" cy="117.2" r="22.00" fill="#0000ff"/><circle cx="1433.1" cy="111.2" r="10.50" fill="url(#hl)"/>
<circle cx="1440.1" cy="124.4" r="22.00" fill="#0000ff"/><circle cx="1435.3" cy="118.4" r="10.50" fill="url(#hl)"/>
<circle cx="1440.1" cy="116.0" r="22.00" fill="#0000ff"/><circle cx="1435.3" cy="110.0" r="10.50" fill="url(#hl)"/>
<circle cx="1442.3" cy="123.1" r="22.00" fill="#0000ff"/><circle cx="1437.5" cy="117.1" r="10.50" fill="url(#hl)"/>
<circle cx="1442.3" cy="114.8" r="22.00" fill="#0000ff"/><circle cx="1437.5" cy="108.8" r="10.50" fill="url(#hl)"/>
<circle cx="1444.6" cy="121.8" r="22.00" fill="#0000ff"/><circle cx="1439.8" cy="115.8" r="10.50" fill="url(#hl)"/>
<circle cx="1444.6" cy="113.6" r="22.00" fill="#0000ff"/><circle cx="1439.8" cy="107.6" r="10.50" fill="url(#hl)"/>
<circle cx="1446.7" cy="120.6" r="22.00" fill="#0000ff"/><circle cx="1441.9" cy="114.6" r="10.50" fill="url(#hl)"/>
<circle cx="1446.7" cy="112.4" r="22.00" fill="#0000ff"/><circle cx="1441.9" cy="106.4" r="10.50" fill="url(#hl)"/>
<circle cx="1448.9" cy="119.3" r="22.00" fill="#0000ff"/><circle cx="1444.1" cy="113.3" r="10.50" fill="url(#hl)"/>
<circle cx="1448.9" cy="111.2" r="22.00" fill="#0000ff"/><circle cx="1444.1" cy="105.2" r="10.50" fill="url(#hl)"/>
<circle cx="1451.1" cy="118.1" r="22.00" fill="#0000ff"/><circle cx="1446.3" cy="112.1" r="10.50" fill="url(#hl)"/>
<circle cx="1451.1" cy="110.1" r="22.00" fill="#0000ff"/><circle cx="1446.3" cy="104.1" r="10.50" fill="url(#hl)"/>
<circle cx="1453.2" cy="116.8" r="22.00" fill="#0000ff"/><circle cx="1448.4" cy="110.8" r="10.50" fill="url(#hl)"/>
<circle cx="1453.2" cy="108.9" r="22.00" fill="#0000ff"/><circle cx="1448.4" cy="102.9" r="10.50" fill="url(#hl)"/>
<circle cx="1455.3" cy="115.6" r="22.00" fill="#0000ff"/><circle cx="1450.5" cy="109.6" r="10.50" fill="url(#hl)"/>
<circle cx="1455.3" cy="107.8" r="22.00" fill="#0000ff"/><circle cx="1450.5" cy="101.8" r="10.50" fill="url(#hl)"/>
<circle cx="1457.4" cy="114.4" r="22.00" fill="#0000ff"/><circle cx="1452.6" cy="108.4" r="10.50" fill="url(#hl)"/>
<circle cx="1457.4" cy="106.8" r="22.00" fill="#0000ff"/><circle cx="1452.6" cy="100.8" r="10.50" fill="url(#hl)"/>
<circle cx="1459.4" cy="113.2" r="22.00" fill="#0000ff"/><circle cx="1454.6" cy="107.2" r="10.50" fill="url(#hl)"/>
<circle cx="1459.4" cy="105.7" r="22.00" fill="#0000ff"/><circle cx="1454.6" cy="99.7" r="10.50" fill="url(#hl)"/>
<circle cx="1461.5" cy="112.1" r="22.00" fill="#0000ff"/><circle cx="1456.7" cy="106.1" r="10.50" fill="url(#hl)"/>
<circle cx="1461.5" cy="104.7" r="22.00" fill="#0000ff"/><circle cx="1456.7" cy="98.7" r="10.50" fill="url(#hl)"/>
<circle cx="1463.5" cy="111.1" r="22.00" fill="#0000ff"/><circle cx="1458.7" cy="105.1" r="10.50" fill="url(#hl)"/>
<circle cx="1463.5" cy="103.6" r="22.00" fill="#0000ff"/><circle cx="1458.7" cy="97.6" r="10.50" fill="url(#hl)"/>
<circle cx="1465.5" cy="110.2" r="22.00" fill="#0000ff"/><circle cx="1460.7" cy="104.2" r="10.50" fill="url(#hl)"/>
<circle cx="1465.5" cy="102.6" r="22.00" fill="#0000ff"/><circle cx="1460.7" cy="96.6" r="10.50" fill="url(#hl)"/>
<circle cx="1467.5" cy="109.3" r="22.00" fill="#0000ff"/><circle cx="1462.7" cy="103.3" r="10.50" fill="url(#hl)"/>
<circle cx="1467.5" cy="101.6" r="22.00" fill="#0000ff"/><circle cx="1462.7" cy="95.6" r="10.50" fill="url(#hl)"/>
<circle cx="1469.5" cy="108.4" r="22.00" fill="#0000ff"/><circle cx="1464.7" cy="102.4" r="10.50" fill="url(#hl)"/>
<circle cx="1469.5" cy="100.6" r="22.00" fill="#0000ff"/><circle cx="1464.7" cy="94.6" r="10.50" fill="url(#hl)"/>
<circle cx="1471.5" cy="107.5" r="22.00" fill="#0000ff"/><circle cx="1466.7" cy="101.5" r="10.50" fill="url(#hl)"/>
<circle cx="1471.5" cy="99.6" r="22.00" fill="#0000ff"/><circle cx="1466.7" cy="93.6" r="10.50" fill="url(#hl)"/>
<circle cx="1473.4" cy="106.6" r="22.00" fill="#0000ff"/><circle cx="1468.6" cy="100.6" r="10.50" fill="url(#hl)"/>
<circle cx="1473.4" cy="98.6" r="22.00" fill="#0000ff"/><circle cx="1468.6" cy="92.6" r="10.50" fill="url(#hl)"/>
<circle cx="1475.3" cy="105.7" r="22.00" fill="#0000ff"/><circle cx="1470.5" cy="99.7" r="10.50" fill="url(#hl)"/>
<circle cx="1475.3" cy="98.2" r="22.00" fill="#0000ff"/><circle cx="1470.5" cy="92.2" r="10.50" fill="url(#hl)"/>
<circle cx="1477.2" cy="104.9" r="22.00" fill="#0000ff"/><circle cx="1472.4" cy="98.9" r="10.50" fill="url(#hl)"/>
<circle cx="1477.2" cy="97.9" r="22.00" fill="#0000ff"/><circle cx="1472.4" cy="91.9" r="10.50" fill="url(#hl)"/>
<circle cx="1479.1" cy="104.0" r="22.00" fill="#0000ff"/><circle cx="1474.3" cy="98.0" r="10.50" fill="url(#hl)"/>
<circle cx="1479.1" cy="97.7" r="22.00" fill="#0000ff"/><circle cx="1474.3" cy="91.7" r="10.50" fill="url(#hl)"/>
<circle cx="1481.0" cy="103.1" r="22.00" fill="#0000ff"/><circle cx="1476.2" cy="97.1" r="10.50" fill="url(#hl)"/>
<circle cx="1481.0" cy="97.5" r="22.00" fill="#0000ff"/><circle cx="1476.2" cy="91.5" r="10.50" fill="url(#hl)"/>
<circle cx="1481.0" cy="97.5" r="22.00" fill="#0000ff"/><circle cx="1476.2" cy="91.5" r="10.50" fill="url(#hl)"/>
</g>
<path d="M419.0,891.0 L790.0,705.0" fill="none" stroke="#000" stroke-width="12" stroke-linecap="round" stroke-linejoin="round"/>
<path d="M418.0,876.0 L495.0,834.5 L615.0,768.2 L695.0,728.3 L776.0,686.0" fill="none" stroke="#f00" stroke-width="10.5" stroke-linecap="round" stroke-linejoin="round"/>
<path d="M418.5,923.0 L495.0,887.6 L572.5,850.0 L615.0,829.7 L661.6,804.5 L695.0,783.3 L727.0,767.0 L776.5,740.0" fill="none" stroke="#00f" stroke-width="10.5" stroke-linecap="round" stroke-linejoin="round"/>
<path d="M1177.3,543.5 L1283.3,386.5" fill="none" stroke="#000" stroke-width="11" stroke-linecap="round" stroke-linejoin="round"/>
<path d="M1137.5,562.0 L1215.4,306.0" fill="none" stroke="#f00" stroke-width="10.5" stroke-linecap="round" stroke-linejoin="round"/>
<path d="M1096.5,573.0 L1167.4,333.0" fill="none" stroke="#00f" stroke-width="10" stroke-linecap="round" stroke-linejoin="round"/>
<path d="M329.0,983.1 H338.5 M329.0,973.1 H338.5 M329.0,964.4 H338.5 M329.0,956.7 H338.5 M329.0,949.8 H348.5 M329.0,904.6 H338.5 M329.0,878.1 H338.5 M329.0,859.4 H338.5 M329.0,844.8 H338.5 M329.0,832.9 H338.5 M329.0,822.9 H338.5 M329.0,814.2 H338.5 M329.0,806.5 H338.5 M329.0,799.6 H348.5 M329.0,754.4 H338.5 M329.0,727.9 H338.5 M329.0,709.2 H338.5 M329.0,694.6 H338.5 M329.0,682.7 H338.5 M329.0,672.7 H338.5 M329.0,664.0 H338.5 M329.0,656.3 H338.5 M329.0,649.4 H348.5 M329.0,604.2 H338.5 M329.0,577.7 H338.5 M329.0,559.0 H338.5 M329.0,544.4 H338.5 M329.0,532.5 H338.5 M329.0,522.5 H338.5 M329.0,513.8 H338.5 M329.0,506.1 H338.5 M329.0,499.2 H348.5 M329.0,454.0 H338.5 M329.0,427.5 H338.5 M329.0,408.8 H338.5 M329.0,394.2 H338.5 M329.0,382.3 H338.5 M329.0,372.3 H338.5 M329.0,363.6 H338.5 M329.0,355.9 H338.5 M329.0,349.0 H348.5 M329.0,303.8 H338.5 M329.0,277.3 H338.5 M329.0,258.6 H338.5 M329.0,244.0 H338.5 M329.0,232.1 H338.5 M329.0,222.1 H338.5 M329.0,213.4 H338.5 M329.0,205.7 H338.5 M329.0,198.8 H348.5 M329.0,153.6 H338.5 M329.0,127.1 H338.5 M329.0,108.4 H338.5 M329.0,93.8 H338.5 M329.0,81.9 H338.5 M329.0,71.9 H338.5 M329.0,63.2 H338.5 M329.0,55.5 H338.5 M419.3,995.0 V984.5 M483.3,995.0 V984.5 M532.8,995.0 V984.5 M573.3,995.0 V984.5 M607.6,995.0 V984.5 M637.2,995.0 V984.5 M663.4,995.0 V984.5 M686.8,995.0 V976.5 M840.8,995.0 V984.5 M930.8,995.0 V984.5 M994.8,995.0 V984.5 M1044.3,995.0 V984.5 M1084.8,995.0 V984.5 M1119.1,995.0 V984.5 M1148.7,995.0 V984.5 M1174.9,995.0 V984.5 M1198.3,995.0 V976.5 M1352.3,995.0 V984.5 M1442.3,995.0 V984.5 M1506.3,995.0 V984.5 M1555.8,995.0 V984.5" stroke="#000" stroke-width="8.0" stroke-linecap="round" fill="none"/>
<rect x="329.0" y="49.5" width="1268.0" height="945.5" fill="none" stroke="#000" stroke-width="8.5" stroke-linejoin="round"/>
<text transform="translate(137.4,64.7) scale(0.98,1)" font-family="'Liberation Sans', sans-serif" font-weight="700" font-size="58" >10,000</text>
<text transform="translate(187.7,225.4) scale(1.054,1)" font-family="'Liberation Serif', serif" font-weight="700" font-size="60" >1000</text>
<text transform="translate(215.1,364.5) scale(0.98,1)" font-family="'Liberation Sans', sans-serif" font-weight="700" font-size="58" >100</text>
<text transform="translate(246.2,515.1) scale(0.98,1)" font-family="'Liberation Sans', sans-serif" font-weight="700" font-size="58" >10</text>
<text transform="translate(274.1,664.2) scale(0.98,1)" font-family="'Liberation Sans', sans-serif" font-weight="700" font-size="58" >1</text>
<text transform="translate(227.1,815.3) scale(0.98,1)" font-family="'Liberation Sans', sans-serif" font-weight="700" font-size="58" >0.1</text>
<text transform="translate(196.3,965.5) scale(0.98,1)" font-family="'Liberation Sans', sans-serif" font-weight="700" font-size="58" >0.01</text>
<text transform="translate(644.1,1059.0) scale(0.98,1)" font-family="'Liberation Sans', sans-serif" font-weight="700" font-size="58" >0.1</text>
<text transform="translate(1178.4,1059.0) scale(0.98,1)" font-family="'Liberation Sans', sans-serif" font-weight="700" font-size="58" >1</text>
<text transform="translate(790.0,1155.5) scale(0.979,1)" font-family="'Liberation Sans', sans-serif" font-weight="700" font-size="75.9" >Voltage (V)</text>
<text transform="translate(96,926.2) rotate(-90) scale(0.944,1)" font-family="'Liberation Sans', sans-serif" font-weight="700" font-size="78">Current density (mA/cm<tspan font-size="45" dy="-41.7" font-weight="400">2</tspan><tspan dy="41.7" font-weight="400">)</tspan></text>
<circle cx="421.8" cy="105.3" r="20.50" fill="#000"/><circle cx="417.3" cy="99.7" r="9.78" fill="url(#hl)"/>
<circle cx="421.8" cy="171.6" r="20.50" fill="#ff0000"/><circle cx="417.3" cy="166.0" r="9.78" fill="url(#hl)"/>
<circle cx="421.8" cy="237.0" r="20.50" fill="#0000ff"/><circle cx="417.3" cy="231.4" r="9.78" fill="url(#hl)"/>
<text transform="translate(486.0,121.3) scale(0.98,1)" font-family="'Liberation Sans', sans-serif" font-weight="700" font-size="54.4" >STD</text>
<text transform="translate(485.8,186.6) scale(0.98,1)" font-family="'Liberation Sans', sans-serif" font-weight="700" font-size="54.4" fill="#d40000">KI</text>
<text transform="translate(486.0,251.9) scale(0.98,1)" font-family="'Liberation Sans', sans-serif" font-weight="700" font-size="54.4" fill="#0000cc">KI+ I</text>
<text x="598.7" y="270.5" font-family="'Liberation Sans', sans-serif" font-weight="700" font-size="34.6" fill="#0000cc">2</text>
</svg></body></html>
